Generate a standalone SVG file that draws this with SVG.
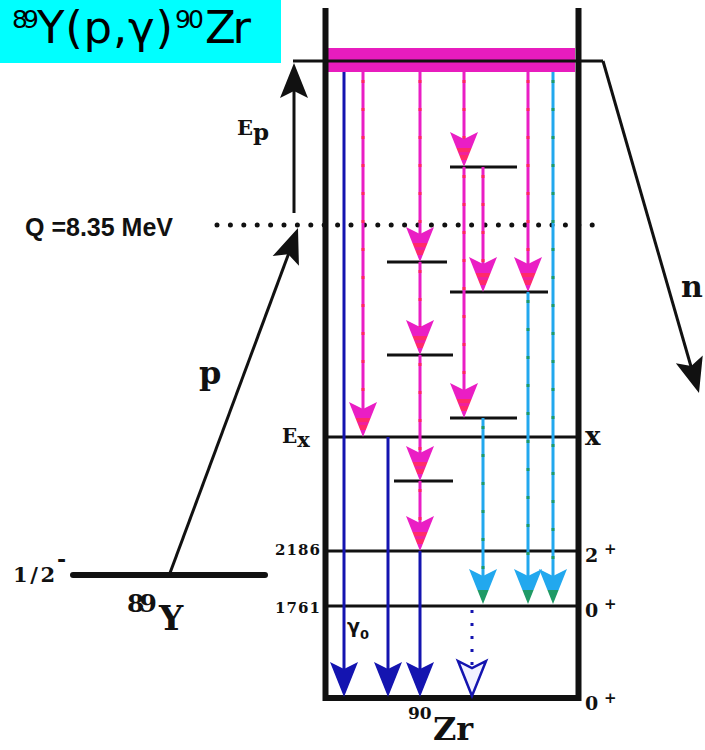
<svg xmlns="http://www.w3.org/2000/svg" xmlns:xlink="http://www.w3.org/1999/xlink" width="705" height="750" viewBox="0 0 705 750">
<style>
.sf{font-family:"DejaVu Serif","Liberation Serif",serif;font-weight:bold;fill:#111}
.ss{font-family:"Liberation Sans",Arial,sans-serif;font-weight:bold;fill:#111}
.lv{stroke:#111;stroke-width:3;fill:none}
.blk{stroke:#111;stroke-width:3;fill:none}
.mg{stroke:#ea1ec4;stroke-width:3;fill:none}
.mgd{stroke:#ff2a5a;stroke-width:3;fill:none;stroke-dasharray:3 25}
.cy{stroke:#22a8ee;stroke-width:3;fill:none}
.cyd{stroke:#1f9a66;stroke-width:3;fill:none;stroke-dasharray:3 25}
.bl{stroke:#1414b0;stroke-width:3;fill:none}
.bld{stroke:#1414b0;stroke-width:3;fill:none;stroke-dasharray:3 10}
</style>
<defs>
<path id="ah" d="M0,0 L-14,-35 L0,-28 L14,-35 Z"/>
<linearGradient id="gM" x1="0" y1="0" x2="0" y2="1">
<stop offset="0" stop-color="#ea1ec4"/><stop offset="0.45" stop-color="#ea1ec4"/>
<stop offset="0.45" stop-color="#ff2a6a"/><stop offset="0.58" stop-color="#ff2a6a"/>
<stop offset="0.58" stop-color="#f0209e"/><stop offset="0.66" stop-color="#f0209e"/>
<stop offset="0.66" stop-color="#ff2a6a"/><stop offset="0.8" stop-color="#ff2a6a"/>
<stop offset="0.8" stop-color="#ea1ec4"/><stop offset="1" stop-color="#ea1ec4"/>
</linearGradient>
<linearGradient id="gC" x1="0" y1="0" x2="0" y2="1">
<stop offset="0" stop-color="#22a8ee"/><stop offset="0.6" stop-color="#22a8ee"/>
<stop offset="0.6" stop-color="#1f9a66"/><stop offset="1" stop-color="#1f9a66"/>
</linearGradient>
</defs>
<rect width="705" height="750" fill="#ffffff"/>

<g id="title">
<rect x="0" y="0" width="281" height="63" fill="#00ffff"/>
<text font-family="DejaVu Sans, Verdana, sans-serif" fill="#000"><tspan x="12" y="28" font-size="25" textLength="27">89</tspan><tspan x="37" y="43" font-size="45" textLength="136">Y(p,γ)</tspan><tspan x="175" y="28" font-size="25" textLength="29">90</tspan><tspan x="205" y="43" font-size="45" textLength="46">Zr</tspan></text>
</g>

<g id="q-value">
<line x1="217" y1="225" x2="605" y2="225" stroke="#111" stroke-width="5" stroke-linecap="round" stroke-dasharray="0 13.4"/>
<text class="ss" x="25" y="236" font-size="25">Q =8.35 MeV</text>
</g>

<g id="level-89Y">
<line x1="73" y1="575" x2="265" y2="575" stroke="#111" stroke-width="6" stroke-linecap="round"/>
<text class="sf" x="13" y="582" font-size="21" textLength="42">1/2</text>
<text class="sf" x="57" y="567" font-size="22">-</text>
<text class="sf"><tspan x="127" y="612" font-size="25" textLength="30">89</tspan><tspan x="159" y="630" font-size="34">Y</tspan></text>
</g>

<g id="box-90Zr">
<rect x="328" y="48" width="247" height="24" fill="#e81cbe"/>
<path d="M325.5,8 V698 H578.5 V8" stroke="#111" stroke-width="6" fill="none"/>
<text class="sf"><tspan x="408" y="719" font-size="17">90</tspan><tspan x="433" y="740" font-size="32">Zr</tspan></text>
</g>

<g id="level-beam">
<line x1="293" y1="61" x2="603" y2="61" class="blk"/>
</g>

<g id="level-x">
<line x1="327" y1="437" x2="577" y2="437" class="lv"/>
<text class="sf" x="282" y="443" font-size="20">E<tspan font-size="21" dy="4">x</tspan></text>
<text class="sf" x="585" y="445" font-size="26">x</text>
</g>
<g id="level-2186">
<line x1="327" y1="551" x2="577" y2="551" class="lv"/>
<text class="sf" x="275" y="555" font-size="15" textLength="45">2186</text>
<text class="sf" x="585" y="562" font-size="19">2</text>
<text class="sf" x="604" y="554" font-size="15">+</text>
</g>
<g id="level-1761">
<line x1="327" y1="606" x2="577" y2="606" class="lv"/>
<text class="sf" x="275" y="613" font-size="15" textLength="45">1761</text>
<text class="sf" x="585" y="617" font-size="19">0</text>
<text class="sf" x="604" y="609" font-size="15">+</text>
</g>
<g id="level-ground">
<text class="sf" x="585" y="710" font-size="19">0</text>
<text class="sf" x="604" y="703" font-size="15">+</text>
</g>

<g id="intermediate-levels" class="lv">
<line x1="450" y1="167" x2="517" y2="167"/>
<line x1="387" y1="262" x2="447" y2="262"/>
<line x1="450" y1="292" x2="548" y2="292"/>
<line x1="387" y1="355" x2="453" y2="355"/>
<line x1="450" y1="418" x2="517" y2="418"/>
<line x1="394" y1="481" x2="453" y2="481"/>
</g>

<g id="connectors">
<path class="mg" d="M363,72V425 M420,72V250 M420,262V345 M420,355V470 M420,481V540 M464,72V155 M464,167V405 M483,167V280 M528,72V280"/>
<path class="mgd" d="M363,80V425 M420,80V250 M420,270V345 M420,363V470 M420,489V540 M464,80V155 M464,175V405 M483,175V280 M528,80V280"/>
<path class="cy" d="M483,418V595 M528,292V595 M553,72V595"/>
<path class="cyd" d="M483,426V595 M528,300V595 M553,80V595"/>
<path class="bl" d="M344,72V690 M388,437V690 M420,551V690"/>
<path class="bld" d="M472,610V690"/>

<g fill="url(#gM)">
<use xlink:href="#ah" href="#ah" transform="translate(363,437)"/>
<use xlink:href="#ah" href="#ah" transform="translate(420,262)"/>
<use xlink:href="#ah" href="#ah" transform="translate(420,355)"/>
<use xlink:href="#ah" href="#ah" transform="translate(420,481)"/>
<use xlink:href="#ah" href="#ah" transform="translate(420,551)"/>
<use xlink:href="#ah" href="#ah" transform="translate(464,167)"/>
<use xlink:href="#ah" href="#ah" transform="translate(464,418)"/>
<use xlink:href="#ah" href="#ah" transform="translate(483,292)"/>
<use xlink:href="#ah" href="#ah" transform="translate(528,292)"/>
</g>
<g fill="url(#gC)">
<use xlink:href="#ah" href="#ah" transform="translate(483,604)"/>
<use xlink:href="#ah" href="#ah" transform="translate(528,604)"/>
<use xlink:href="#ah" href="#ah" transform="translate(553,604)"/>
</g>
<g fill="#1414b0">
<use xlink:href="#ah" href="#ah" transform="translate(344,697)"/>
<use xlink:href="#ah" href="#ah" transform="translate(388,697)"/>
<use xlink:href="#ah" href="#ah" transform="translate(420,697)"/>
</g>
<use xlink:href="#ah" href="#ah" transform="translate(472,696)" fill="#f2f2ff" stroke="#1414b0" stroke-width="2.5"/>
<text x="347" y="633" font-family="DejaVu Sans, sans-serif" font-weight="bold" font-size="19" fill="#111">γ<tspan font-size="13" dy="6">0</tspan></text>

<line class="blk" x1="294" y1="213" x2="294" y2="90"/>
<use xlink:href="#ah" href="#ah" transform="translate(294,63) rotate(180)" fill="#111"/>
<text class="sf" x="237" y="135" font-size="21">E<tspan font-size="23" dy="5">p</tspan></text>

<line class="blk" x1="170" y1="573" x2="290" y2="250"/>
<use xlink:href="#ah" href="#ah" transform="translate(298,228) rotate(200.4)" fill="#111"/>
<text class="sf" x="199" y="384" font-size="32">p</text>

<polyline class="blk" points="603,61 692,370"/>
<use xlink:href="#ah" href="#ah" transform="translate(699,393) rotate(-16.1)" fill="#111"/>
<text class="sf" x="681" y="297" font-size="30">n</text>
</g>
</svg>
